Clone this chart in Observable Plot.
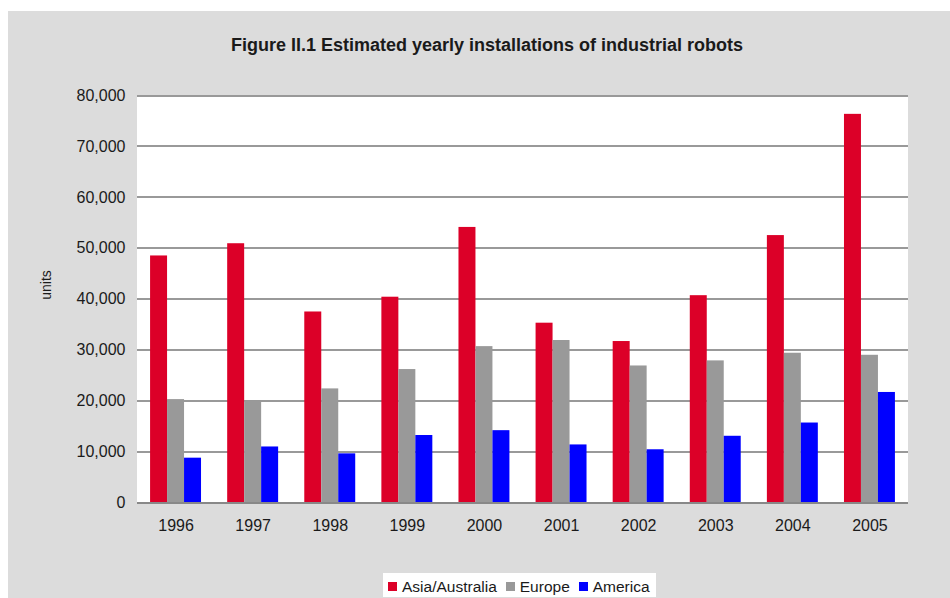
<!DOCTYPE html>
<html>
<head>
<meta charset="utf-8">
<script src="https://cdn.jsdelivr.net/npm/d3@7"></script>
<script src="https://cdn.jsdelivr.net/npm/@observablehq/plot@0.6"></script>
<style>
  html, body { margin: 0; padding: 0; background: #ffffff; width: 950px; height: 598px; overflow: hidden; }
  #panel { position: absolute; left: 8px; top: 11px; width: 942px; height: 600px; background: #dcdcdc; }
  #plotbg { position: absolute; left: 137px; top: 95px; width: 771px; height: 408px; background: #ffffff; }
  #title { position: absolute; left: 0; top: 35px; width: 974px; text-align: center;
           font: bold 18px "Liberation Sans", Arial, sans-serif; color: #1a1a1a; line-height: 20px; }
  #ylabel { position: absolute; left: 46px; top: 285px; transform: translate(-50%, -50%) rotate(-90deg);
            font: 14px "Liberation Sans", Arial, sans-serif; color: #1a1a1a; white-space: nowrap; }
  #chart { position: absolute; left: 0; top: 60px; }
  #legend { position: absolute; left: 383px; top: 573px; width: 273px; height: 24px; background: #ffffff;
            display: flex; align-items: center; padding-left: 5px; padding-top: 3px; box-sizing: border-box;
            font: 15.5px "Liberation Sans", Arial, sans-serif; color: #1a1a1a; }
  .item { display: flex; align-items: center; margin-right: 9px; }
  .sw { width: 9px; height: 9px; margin-right: 5px; }
</style>
</head>
<body>
<div id="panel"></div>
<div id="plotbg"></div>
<div id="title">Figure II.1 Estimated yearly installations of industrial robots</div>
<div id="chart"></div>
<div id="ylabel">units</div>
<div id="legend"></div>
<script>
const years = ["1996", "1997", "1998", "1999", "2000", "2001", "2002", "2003", "2004", "2005"];
const series = ["Asia/Australia", "Europe", "America"];
const asia    = [48500, 50900, 37500, 40400, 54100, 35300, 31700, 40700, 52500, 76300];
const europe  = [20300, 20000, 22400, 26200, 30700, 31900, 26900, 27900, 29400, 29000];
const america = [8800, 11000, 9650, 13250, 14200, 11400, 10450, 13100, 15700, 21700];
const colors = ["#dc0028", "#999999", "#0000ff"];
const yTicks = [0, 10000, 20000, 30000, 40000, 50000, 60000, 70000, 80000];

const valuesBySeries = [asia, europe, america];
const data = years.flatMap((year, i) =>
  series.map((s, j) => ({year, series: s, value: valuesBySeries[j][i]}))
);

const chart = Plot.plot({
  width: 950,
  height: 480,
  marginTop: 35,
  marginBottom: 37.5,
  marginLeft: 137,
  marginRight: 42,
  style: {background: "transparent", fontFamily: "'Liberation Sans', Arial, sans-serif", fontSize: "16px", color: "#1a1a1a"},
  fx: {domain: years, padding: 0, round: false, label: null, axis: "bottom", tickSize: 0, tickPadding: 17},
  x: {domain: series, paddingInner: 0, paddingOuter: 0.77, round: false, axis: null},
  y: {domain: [0, 80000], ticks: yTicks, tickFormat: d3.format(","), tickSize: 0, tickPadding: 12, label: null},
  color: {domain: series, range: colors},
  marks: [
    Plot.ruleY(yTicks.slice(1), {stroke: "#999", strokeWidth: 2, shapeRendering: "crispEdges"}),
    Plot.barY(data, {fx: "year", x: "series", y: "value", fill: "series"}),
    Plot.ruleY([0], {stroke: "#888", strokeWidth: 2, shapeRendering: "crispEdges"})
  ]
});
document.getElementById("chart").appendChild(chart);

const legend = document.getElementById("legend");
series.forEach((s, j) => {
  const item = document.createElement("div");
  item.className = "item";
  const sw = document.createElement("span");
  sw.className = "sw";
  sw.style.background = colors[j];
  const label = document.createElement("span");
  label.textContent = s;
  item.appendChild(sw);
  item.appendChild(label);
  legend.appendChild(item);
});
</script>
</body>
</html>
